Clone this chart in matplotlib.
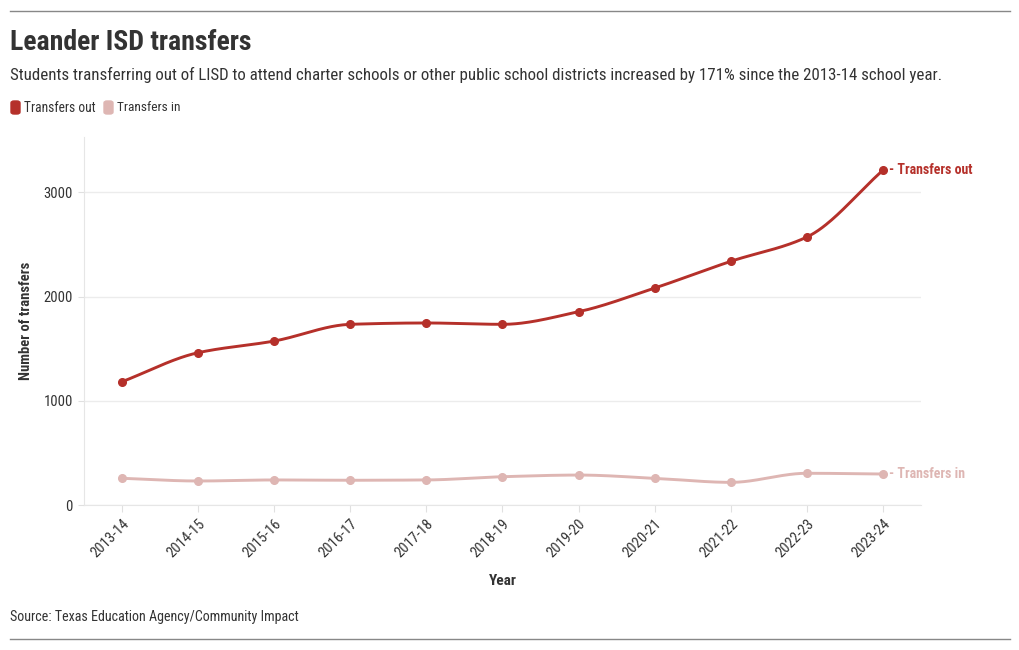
import numpy as np
import matplotlib
matplotlib.use("Agg")
import matplotlib.pyplot as plt
from matplotlib.lines import Line2D
from matplotlib.patches import FancyBboxPatch
from matplotlib import font_manager

names = {f.name for f in font_manager.fontManager.ttflist}
main_font = 'Roboto'
for cand in ['Roboto Condensed', 'Liberation Sans Narrow', 'Roboto']:
    if cand in names:
        main_font = cand
        break
plt.rcParams['font.family'] = [main_font, 'DejaVu Sans']

years = ["2013-14", "2014-15", "2015-16", "2016-17", "2017-18", "2018-19",
         "2019-20", "2020-21", "2021-22", "2022-23", "2023-24"]
transfers_out = [1185, 1463, 1575, 1735, 1748, 1735, 1856, 2083, 2339, 2572, 3212]
transfers_in = [259, 233, 243, 240, 243, 274, 290, 259, 220, 307, 300]

c_out = "#b5302a"
c_in = "#deb6b3"
txt = "#333333"


def monotone(x, y, n=40):
    x = np.asarray(x, float); y = np.asarray(y, float)
    h = np.diff(x); d = np.diff(y) / h
    m = np.zeros_like(y)
    m[0] = d[0]; m[-1] = d[-1]
    for i in range(1, len(y) - 1):
        if d[i - 1] * d[i] <= 0:
            m[i] = 0
        else:
            w1 = 2 * h[i] + h[i - 1]; w2 = h[i] + 2 * h[i - 1]
            m[i] = (w1 + w2) / (w1 / d[i - 1] + w2 / d[i])
    xs, ys = [], []
    for i in range(len(x) - 1):
        t = np.linspace(0, 1, n, endpoint=False)
        h00 = 2 * t**3 - 3 * t**2 + 1; h10 = t**3 - 2 * t**2 + t
        h01 = -2 * t**3 + 3 * t**2; h11 = t**3 - t**2
        xs.append(x[i] + t * h[i])
        ys.append(h00 * y[i] + h10 * h[i] * m[i] + h01 * y[i + 1] + h11 * h[i] * m[i + 1])
    xs.append([x[-1]]); ys.append([y[-1]])
    return np.concatenate(xs), np.concatenate(ys)


fig = plt.figure(figsize=(10.2, 6.5), dpi=100)
W, H = 1020, 650
renderer = fig.canvas.get_renderer()


def fit(t, width_px, max_size):
    """Shrink a text's font size so its width matches the reference width."""
    t.set_fontsize(max_size)
    w = t.get_window_extent(renderer).width
    if w > width_px:
        t.set_fontsize(max_size * width_px / w)
    return t


ax = fig.add_axes([84 / W, 1 - 505.3 / H, (921 - 84) / W, (505.3 - 137) / H])

xi = np.arange(len(years))
for vals, c in ((transfers_in, c_in), (transfers_out, c_out)):
    sx, sy = monotone(xi, vals)
    ax.plot(sx, sy, color=c, lw=2.1, solid_capstyle='round', zorder=3)
    ax.plot(xi, vals, 'o', color=c, ms=5.5, zorder=4)

ax.set_xlim(-0.5, 10.5)
ax.set_ylim(0, 3531)
ax.set_yticks([0, 1000, 2000, 3000])
ax.set_yticklabels(["0", "1000", "2000", "3000"])
ax.set_xticks(xi)
ax.set_xticklabels(years, rotation=45, ha='right', rotation_mode='anchor')
ax.grid(axis='y', color='#ececec', lw=1)
ax.set_axisbelow(True)
for s in ['top', 'right']:
    ax.spines[s].set_visible(False)
ax.spines['left'].set_color('#e6e6e6')
ax.spines['bottom'].set_color('#e6e6e6')
ax.tick_params(axis='y', length=4.5, color='#e0e0e0', pad=3.5, labelsize=10.5, labelcolor=txt)
ax.tick_params(axis='x', length=5, color='#e0e0e0', pad=3, labelsize=10.5, labelcolor=txt)
ax.set_ylabel("Number of transfers", fontsize=10.5, fontweight='bold', color=txt)
ax.yaxis.set_label_coords((33 - 84) / 837, 0.5)
ax.set_xlabel("Year", fontsize=11, fontweight='bold', color=txt, labelpad=10)

ax.annotate("- Transfers out", (xi[-1], transfers_out[-1]), xytext=(4.5, 0),
            textcoords='offset points', va='center', ha='left', color=c_out,
            fontsize=10, fontweight='bold', annotation_clip=False)
ax.annotate("- Transfers in", (xi[-1], transfers_in[-1]), xytext=(4.5, 0),
            textcoords='offset points', va='center', ha='left', color=c_in,
            fontsize=10, fontweight='bold', annotation_clip=False)

# rules
fig.add_artist(Line2D([10 / W, 1010 / W], [1 - 11 / H, 1 - 11 / H], color='#888888', lw=1))
fig.add_artist(Line2D([10 / W, 1010 / W], [1 - 639 / H, 1 - 639 / H], color='#888888', lw=1))

t = fig.text(10 / W, 1 - 43 / H, "Leander ISD transfers", fontweight='bold',
             color=txt, va='center', ha='left')
fit(t, 242, 20)
t = fig.text(10 / W, 1 - 75 / H, "Students transferring out of LISD to attend charter schools or other public school districts increased by 171% since the 2013-14 school year.",
             color=txt, va='center', ha='left')
fit(t, 935, 12.5)

# legend
for x0, lab, c in ((11, "Transfers out", c_out), (104, "Transfers in", c_in)):
    fig.add_artist(FancyBboxPatch((x0 / W, 1 - 114 / H), 9 / W, 13 / H,
                                  boxstyle="round,pad=0,rounding_size=0.003",
                                  transform=fig.transFigure, color=c))
    t = fig.text((x0 + 13) / W, 1 - 107.5 / H, lab, color=txt, va='center', ha='left')
    fit(t, 72 if lab == "Transfers out" else 64, 10.5)

t = fig.text(10 / W, 1 - 617 / H, "Source: Texas Education Agency/Community Impact",
             color=txt, va='center', ha='left')
fit(t, 290, 10.5)

fig.savefig("out.png", dpi=100, facecolor='white')
